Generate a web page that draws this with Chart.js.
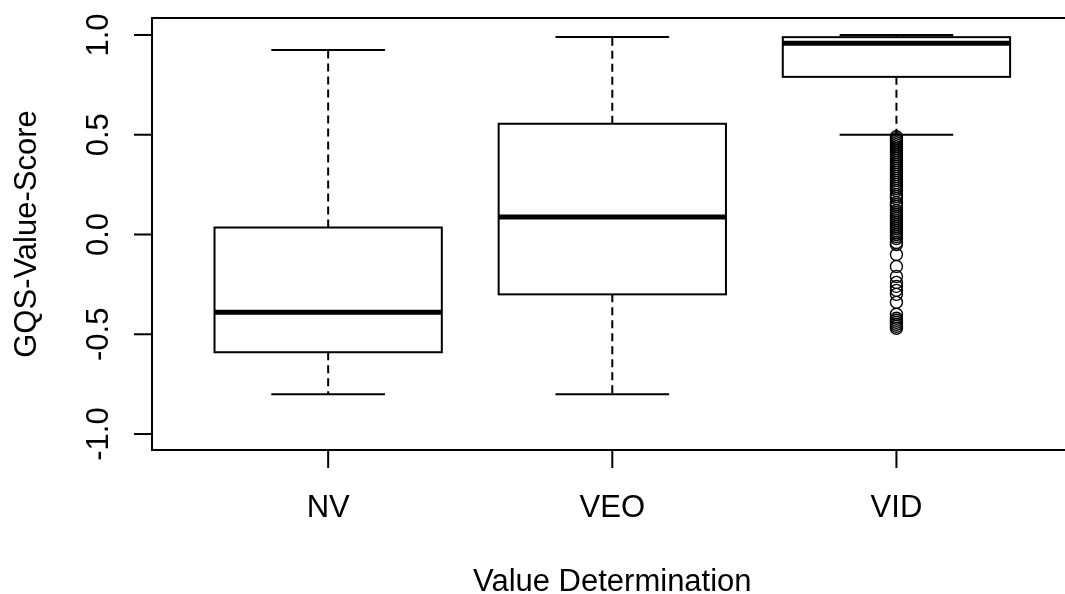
<!DOCTYPE html>
<html>
<head>
<meta charset="utf-8">
<script src="https://cdn.jsdelivr.net/npm/chart.js@4.4.1/dist/chart.umd.min.js"></script>
<style>
  html, body { margin: 0; padding: 0; background: #fff; overflow: hidden; }
  #wrap { width: 1065px; height: 594px; overflow: hidden; }
</style>
</head>
<body>
<div id="wrap"><canvas id="boxChart" width="1080" height="594"></canvas></div>
<script>
// Box statistics per group
const categories = ['NV', 'VEO', 'VID'];
const whiskerLow = [-0.80, -0.80, 0.50];
const q1 = [-0.59, -0.30, 0.79];
const medians = [-0.39, 0.088, 0.959];
const q3 = [0.035, 0.555, 0.989];
const whiskerHigh = [0.925, 0.99, 1.0];

// Outliers below the VID whisker
const vidOutliers = [
  0.49, 0.48, 0.47, 0.46, 0.45, 0.44, 0.43, 0.42, 0.41, 0.40,
  0.39, 0.38, 0.37, 0.36, 0.35, 0.34, 0.33, 0.32, 0.31, 0.30,
  0.29, 0.28, 0.27, 0.26, 0.25, 0.24, 0.23, 0.22, 0.20, 0.19,
  0.18, 0.16, 0.15, 0.14, 0.12, 0.11, 0.10, 0.09, 0.08, 0.07,
  0.06, 0.05, 0.04, 0.03, 0.02, 0.01, 0.00, -0.01, -0.02, -0.04,
  -0.05, -0.10, -0.16, -0.21, -0.24, -0.26, -0.28, -0.30, -0.34,
  -0.40, -0.42, -0.43, -0.44, -0.45, -0.46, -0.47
];

const yTicks = [-1, -0.5, 0, 0.5, 1];
const yTickLabels = ['-1.0', '-0.5', '0.0', '0.5', '1.0'];
const xTitle = 'Value Determination';
const yTitle = 'GQS-Value-Score';

const FONT = '31px "Liberation Sans", Arial, sans-serif';
const BOX_HALF = 0.4;   // half box width in group units
const CAP_HALF = 0.2;   // half whisker cap width
const TICK_LEN = 18;

// Draws the R-style frame, axes and boxes using the chart's scales
const boxplotPlugin = {
  id: 'boxplot',
  beforeDatasetsDraw(chart) {
    const { ctx, scales: { x, y } } = chart;
    ctx.save();
    ctx.strokeStyle = '#000';
    ctx.lineCap = 'butt';

    categories.forEach((cat, i) => {
      const pos = i + 1;
      const cx = x.getPixelForValue(pos);
      const left = x.getPixelForValue(pos - BOX_HALF);
      const right = x.getPixelForValue(pos + BOX_HALF);
      const capL = x.getPixelForValue(pos - CAP_HALF);
      const capR = x.getPixelForValue(pos + CAP_HALF);
      const yLow = y.getPixelForValue(whiskerLow[i]);
      const yQ1 = y.getPixelForValue(q1[i]);
      const yMed = y.getPixelForValue(medians[i]);
      const yQ3 = y.getPixelForValue(q3[i]);
      const yHigh = y.getPixelForValue(whiskerHigh[i]);

      // dashed whiskers
      ctx.lineWidth = 2;
      ctx.setLineDash([8, 5]);
      ctx.beginPath();
      ctx.moveTo(cx, yQ1); ctx.lineTo(cx, yLow);
      ctx.moveTo(cx, yQ3); ctx.lineTo(cx, yHigh);
      ctx.stroke();
      ctx.setLineDash([]);

      // caps
      ctx.beginPath();
      ctx.moveTo(capL, yLow); ctx.lineTo(capR, yLow);
      ctx.moveTo(capL, yHigh); ctx.lineTo(capR, yHigh);
      ctx.stroke();

      // box
      ctx.fillStyle = '#fff';
      ctx.fillRect(left, yQ3, right - left, yQ1 - yQ3);
      ctx.strokeRect(left, yQ3, right - left, yQ1 - yQ3);

      // median
      ctx.lineWidth = 5;
      ctx.beginPath();
      ctx.moveTo(left, yMed); ctx.lineTo(right, yMed);
      ctx.stroke();
    });
    ctx.restore();
  },
  afterDraw(chart) {
    const { ctx, chartArea: area, scales: { x, y } } = chart;
    ctx.save();
    ctx.strokeStyle = '#000';
    ctx.lineWidth = 2;

    // plot frame
    ctx.strokeRect(area.left, area.top, area.right - area.left, area.bottom - area.top);

    ctx.fillStyle = '#000';
    ctx.font = FONT;

    // y axis ticks + rotated labels
    yTicks.forEach((v, i) => {
      const py = y.getPixelForValue(v);
      ctx.beginPath();
      ctx.moveTo(area.left, py); ctx.lineTo(area.left - TICK_LEN, py);
      ctx.stroke();
      ctx.save();
      ctx.translate(108, py);
      ctx.rotate(-Math.PI / 2);
      ctx.textAlign = 'center';
      ctx.textBaseline = 'alphabetic';
      ctx.fillText(yTickLabels[i], 0, 0);
      ctx.restore();
    });

    // x axis ticks + labels
    categories.forEach((cat, i) => {
      const px = x.getPixelForValue(i + 1);
      ctx.beginPath();
      ctx.moveTo(px, area.bottom); ctx.lineTo(px, area.bottom + TICK_LEN);
      ctx.stroke();
      ctx.textAlign = 'center';
      ctx.textBaseline = 'alphabetic';
      ctx.fillText(cat, px, 517);
    });

    // axis titles
    const midX = (area.left + area.right) / 2;
    const midY = (area.top + area.bottom) / 2;
    ctx.textAlign = 'center';
    ctx.fillText(xTitle, midX, 591);
    ctx.save();
    ctx.translate(36, midY);
    ctx.rotate(-Math.PI / 2);
    ctx.fillText(yTitle, 0, 0);
    ctx.restore();

    ctx.restore();
  }
};

const ctx = document.getElementById('boxChart').getContext('2d');
new Chart(ctx, {
  type: 'scatter',
  data: {
    datasets: [{
      label: 'VID outliers',
      data: vidOutliers.map(v => ({ x: 3, y: v })),
      pointStyle: 'circle',
      pointRadius: 6,
      pointBorderWidth: 1.4,
      borderColor: '#000',
      backgroundColor: 'rgba(0,0,0,0)'
    }]
  },
  options: {
    responsive: false,
    animation: false,
    devicePixelRatio: 1,
    layout: { padding: { left: 152, top: 18, right: 4, bottom: 144 } },
    plugins: {
      legend: { display: false },
      tooltip: { enabled: false }
    },
    scales: {
      x: { type: 'linear', min: 0.38, max: 3.62, display: false },
      y: { type: 'linear', min: -1.08, max: 1.085, display: false }
    }
  },
  plugins: [boxplotPlugin]
});
</script>
</body>
</html>
